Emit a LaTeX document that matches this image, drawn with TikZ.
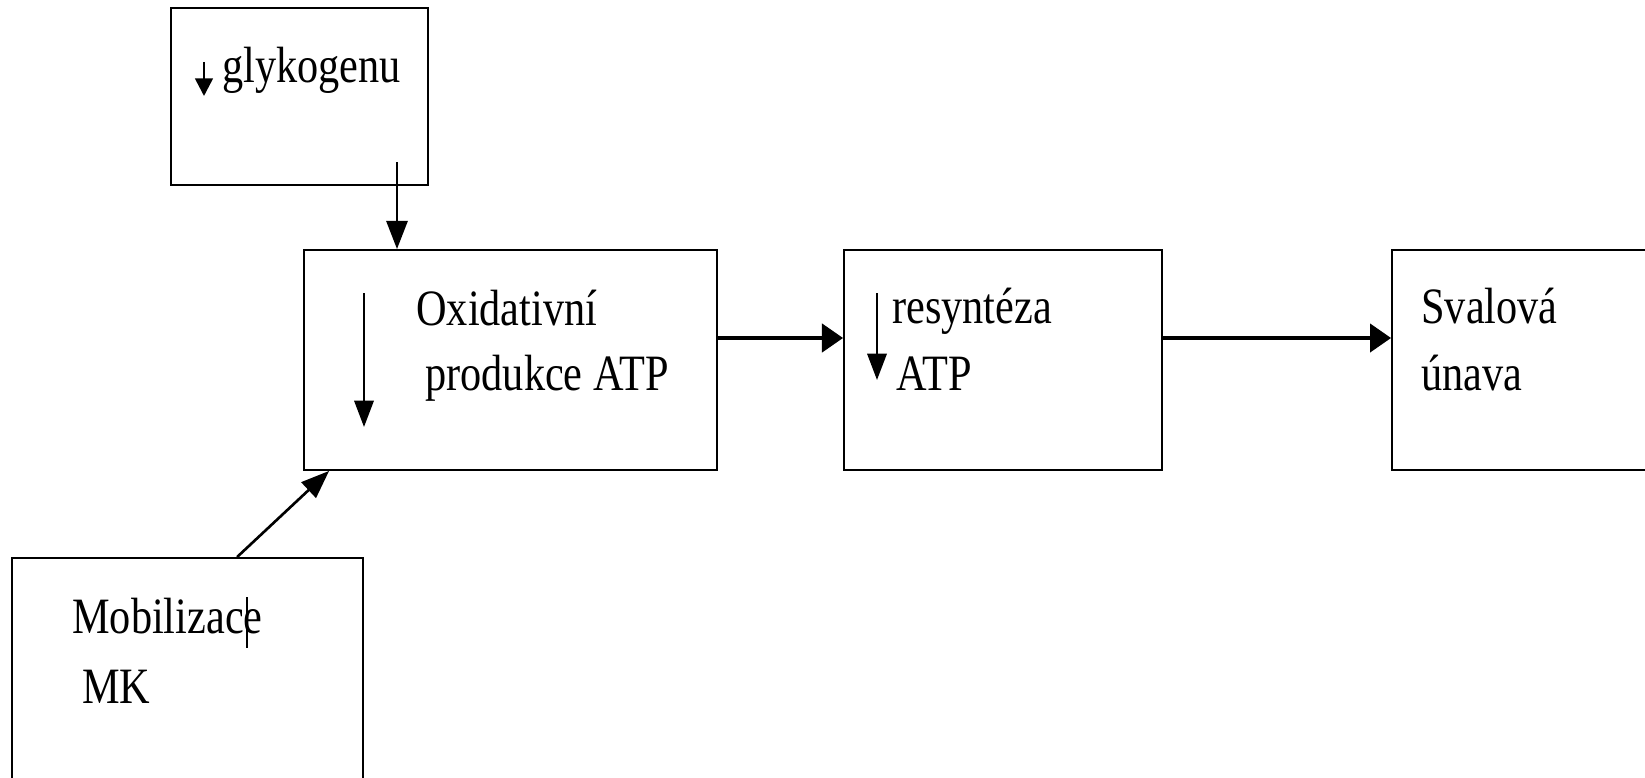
\documentclass[tikz,border=0pt]{standalone}
\usepackage{fontspec}
\setmainfont{Liberation Serif}[FakeStretch=0.83]
\usetikzlibrary{arrows.meta,calc}

\begin{document}
\begin{tikzpicture}[x=0.02cm, y=-0.02cm,
    box node/.style={rectangle, draw, line width=1.1pt, inner sep=0pt},
    text node/.style={anchor=base west, inner sep=0pt, font=\fontsize{29}{36}\selectfont},
    flow/.style={line width=2.3pt, -{Triangle[length=12pt, width=16pt]}},
    feed/.style={line width=1.5pt, -{Triangle[length=16pt, width=12pt]}},
    drop/.style={line width=1.4pt, -{Triangle[length=15pt, width=11pt]}},
    small drop/.style={line width=1.5pt, -{Triangle[length=10pt, width=10pt]}}]
    \clip (0,0) rectangle (1645,777);

    \node[box node, minimum width=5.14cm, minimum height=3.54cm] at (299.5, 96.5) (glyk) {};
    \node[box node, minimum width=8.26cm, minimum height=4.4cm] at (510.5, 360) (oxid) {};
    \node[box node, minimum width=6.36cm, minimum height=4.4cm] at (1003, 360) (res) {};
    \node[box node, minimum width=6.16cm, minimum height=4.4cm] at (1546, 360) (sval) {};
    \node[box node, minimum width=7.02cm, minimum height=5.24cm] at (187.5, 689) (mk) {};

    \node[text node] at (222, 83) (glyk1) {glykogenu};
    \node[text node] at (416, 325) (oxid1) {Oxidativní};
    \node[text node] at (425, 390) (oxid2) {produkce ATP};
    \node[text node] at (892, 323) (res1) {resyntéza};
    \node[text node] at (896, 390) (res2) {ATP};
    \node[text node] at (1421, 323) (sval1) {Svalová};
    \node[text node] at (1421, 390) (sval2) {únava};
    \node[text node] at (72, 633) (mk1) {Mobilizace};
    \node[text node] at (82, 703) (mk2) {MK};

    \draw[small drop] (204, 62) -- (204, 96);
    \draw[drop] (364, 293) -- (364, 427);
    \draw[drop] (877, 293) -- (877, 380);
    \draw[line width=0.6pt] (247, 597) -- (247, 648);

    \coordinate (glykout) at (397, 162);
    \draw[feed] (glykout) -- (glykout |- oxid.north);
    \draw[flow] ($(oxid.east)+(0,-22)$) -- ($(res.west)+(0,-22)$);
    \draw[flow] ($(res.east)+(0,-22)$) -- ($(sval.west)+(0,-22)$);
    \draw[feed] ($(mk.north west)+(226,0)$) -- ($(oxid.south west)+(26,0)$);

\end{tikzpicture}
\end{document}
